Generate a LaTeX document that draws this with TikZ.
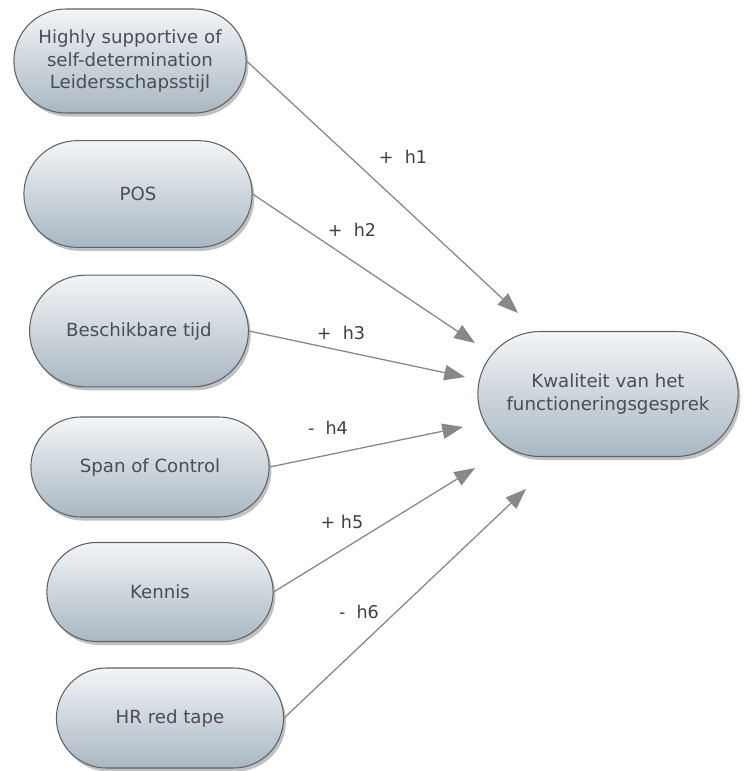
\documentclass[tikz,border=0pt]{standalone}
\usepackage{fontspec}
\setmainfont{DejaVu Sans}
\usetikzlibrary{arrows.meta,shapes.misc,shadows}
\definecolor{pilltop}{HTML}{F3F5F7}
\definecolor{pillbot}{HTML}{A9B7C2}
\definecolor{pilledge}{HTML}{5E6266}
\definecolor{pilltext}{HTML}{4A4E52}
\definecolor{linkgray}{HTML}{888888}
\tikzset{pill/.style={rounded rectangle, draw=pilledge, line width=0.9pt,
    top color=pilltop, bottom color=pillbot, text=pilltext, align=center,
    minimum height=3.2cm, font=\fontsize{15.5}{19}\selectfont,
    drop shadow={shadow xshift=2pt, shadow yshift=-3pt, opacity=.35, fill=black!70}},
  link/.style={linkgray, line width=1.1pt, -{Triangle[length=0.62cm, width=0.46cm]}},
  hyp/.style={text=black!75, font=\fontsize{15}{18}\selectfont, inner sep=1pt}}

\begin{document}
\begin{tikzpicture}[x=0.03cm, y=-0.03cm]
  \useasboundingbox (0,0) rectangle (745,771);
  % oorzaken
  \node[pill, minimum width=7.2cm, minimum height=3.12cm] (lead) at (130, 61)
    {Highly supportive of\\self-determination\\Leidersschapsstijl};
  \node[pill, minimum width=7.08cm] (pos)  at (138,194) {POS};
  \node[pill, minimum width=6.8cm, minimum height=3.35cm] (tijd) at (139,331) {Beschikbare tijd};
  \node[pill, minimum width=7.38cm, minimum height=3.0cm] (span) at (150,467) {Span of Control};
  \node[pill, minimum width=7.02cm, minimum height=2.97cm] (kennis) at (160,592) {Kennis};
  \node[pill, minimum width=7.05cm, minimum height=3.0cm] (tape) at (170,718) {HR red tape};
  % gevolg
  \node[pill, minimum width=8.04cm, minimum height=3.75cm] (kwal) at (608,394)
    {Kwaliteit van het\\functioneringsgesprek};
  % pijlpunten
  \coordinate (tip1) at (518,313);
  \coordinate (tip2) at (475,343);
  \coordinate (tip3) at (465,377);
  \coordinate (tip4) at (463,427);
  \coordinate (tip5) at (475,468);
  \coordinate (tip6) at (526,489);
  \draw[link] (lead.east)   -- (tip1);
  \draw[link] (pos.east)    -- (tip2);
  \draw[link] (tijd.east)   -- (tip3);
  \draw[link] (span.east)   -- (tip4);
  \draw[link] (kennis.east) -- (tip5);
  \draw[link] (tape.east)   -- (tip6);
  % hypothesen
  \node[hyp] (h1) at (403,157) {+\ \ h1};
  \node[hyp] (h2) at (352,230) {+\ \ h2};
  \node[hyp] (h3) at (341,333) {+\ \ h3};
  \node[hyp] (h4) at (328,428) {-\ \ h4};
  \node[hyp] (h5) at (342,522) {+\ h5};
  \node[hyp] (h6) at (359,612) {-\ \ h6};
\end{tikzpicture}
\end{document}
